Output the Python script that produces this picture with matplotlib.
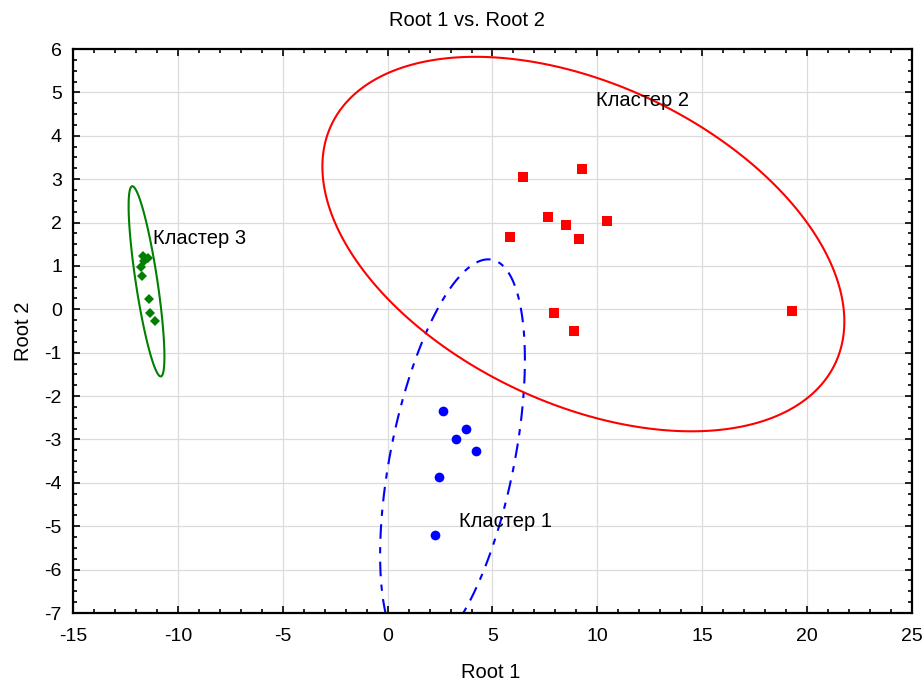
import numpy as np
import matplotlib
matplotlib.use("Agg")
import matplotlib.pyplot as plt
from matplotlib.patches import Polygon
from matplotlib.ticker import MultipleLocator

plt.rcParams['font.family'] = ['Liberation Sans', 'DejaVu Sans']
plt.rcParams['axes.unicode_minus'] = False

# канонические корни по кластерам
c1_root1 = [2.65, 3.72, 3.25, 4.21, 2.46, 2.27]
c1_root2 = [-2.35, -2.77, -3.00, -3.27, -3.87, -5.20]

c2_root1 = [6.47, 9.25, 7.63, 8.49, 10.47, 5.82, 9.14, 7.92, 8.87, 19.26]
c2_root2 = [3.04, 3.23, 2.13, 1.94, 2.04, 1.67, 1.62, -0.09, -0.50, -0.04]

c3_root1 = [-11.68, -11.41, -11.60, -11.77, -11.71, -11.38, -11.31, -11.10]
c3_root2 = [1.23, 1.18, 1.12, 0.97, 0.77, 0.23, -0.08, -0.26]

labels = ['Кластер 1', 'Кластер 2', 'Кластер 3']
label_pos = [(3.40, -4.88), (9.93, 4.82), (-11.19, 1.64)]


def prediction_ellipse(x, y, p=0.95, npts=400):
    # эллипс предсказания (95%) по выборочной ковариации
    x = np.asarray(x)
    y = np.asarray(y)
    n = len(x)
    m = n - 2
    f = (m / 2.0) * ((1 - p) ** (-2.0 / m) - 1)
    k = np.sqrt(2.0 * (n - 1) * (n + 1) / (n * m) * f)
    cov = np.cov(x, y)
    sx, sy = np.sqrt(cov[0, 0]), np.sqrt(cov[1, 1])
    rho = cov[0, 1] / (sx * sy)
    t = np.linspace(0, 2 * np.pi, npts, endpoint=False)
    ex = x.mean() + k * sx * np.cos(t)
    ey = y.mean() + k * sy * (rho * np.cos(t) + np.sqrt(1 - rho ** 2) * np.sin(t))
    return np.column_stack([ex, ey])


fig = plt.figure(figsize=(9.23, 6.82), dpi=100)
ax = fig.add_axes([73 / 923, 1 - 613 / 682, (912 - 73) / 923, (613 - 49) / 682])

ax.grid(True, color='#dcdcdc', linewidth=0.9, zorder=0)
ax.set_axisbelow(True)

ax.add_patch(Polygon(prediction_ellipse(c1_root1, c1_root2), closed=True, fill=False,
                     edgecolor='#0000ff', linewidth=1.5, linestyle=(0, (7, 4, 3, 4)), zorder=2))
ax.add_patch(Polygon(prediction_ellipse(c2_root1, c2_root2), closed=True, fill=False,
                     edgecolor='#ff0000', linewidth=1.5, zorder=2))
ax.add_patch(Polygon(prediction_ellipse(c3_root1, c3_root2), closed=True, fill=False,
                     edgecolor='#008000', linewidth=1.5, zorder=2))

ax.plot(c1_root1, c1_root2, 'o', color='#0000ff', markersize=7, markeredgewidth=0, zorder=3)
ax.plot(c2_root1, c2_root2, 's', color='#ff0000', markersize=7, markeredgewidth=0, zorder=3)
ax.plot(c3_root1, c3_root2, 'D', color='#008000', markersize=5, markeredgewidth=0, zorder=3)

for lab, (lx, ly) in zip(labels, label_pos):
    ax.text(lx, ly, lab, fontsize=14.5, ha='left', va='center', zorder=4)

ax.set_xlim(-15, 25)
ax.set_ylim(-7, 6)
ax.xaxis.set_major_locator(MultipleLocator(5))
ax.xaxis.set_minor_locator(MultipleLocator(1))
ax.yaxis.set_major_locator(MultipleLocator(1))
ax.yaxis.set_minor_locator(MultipleLocator(0.25))
ax.tick_params(which='both', direction='in', top=True, right=True, labelsize=14, width=1.2)
ax.tick_params(which='major', length=5)
ax.tick_params(which='minor', length=3)
ax.tick_params(axis='x', pad=11)
ax.tick_params(axis='y', pad=8)
for sp in ax.spines.values():
    sp.set_linewidth(1.6)

fig.text(467 / 923, 1 - 21 / 682, 'Root 1 vs. Root 2', fontsize=14.5, ha='center', va='center')
fig.text(491 / 923, 1 - 673 / 682, 'Root 1', fontsize=14.5, ha='center', va='center')
ax.set_ylabel('Root 2', fontsize=14.5, labelpad=8)

fig.savefig('out.png', dpi=100)
